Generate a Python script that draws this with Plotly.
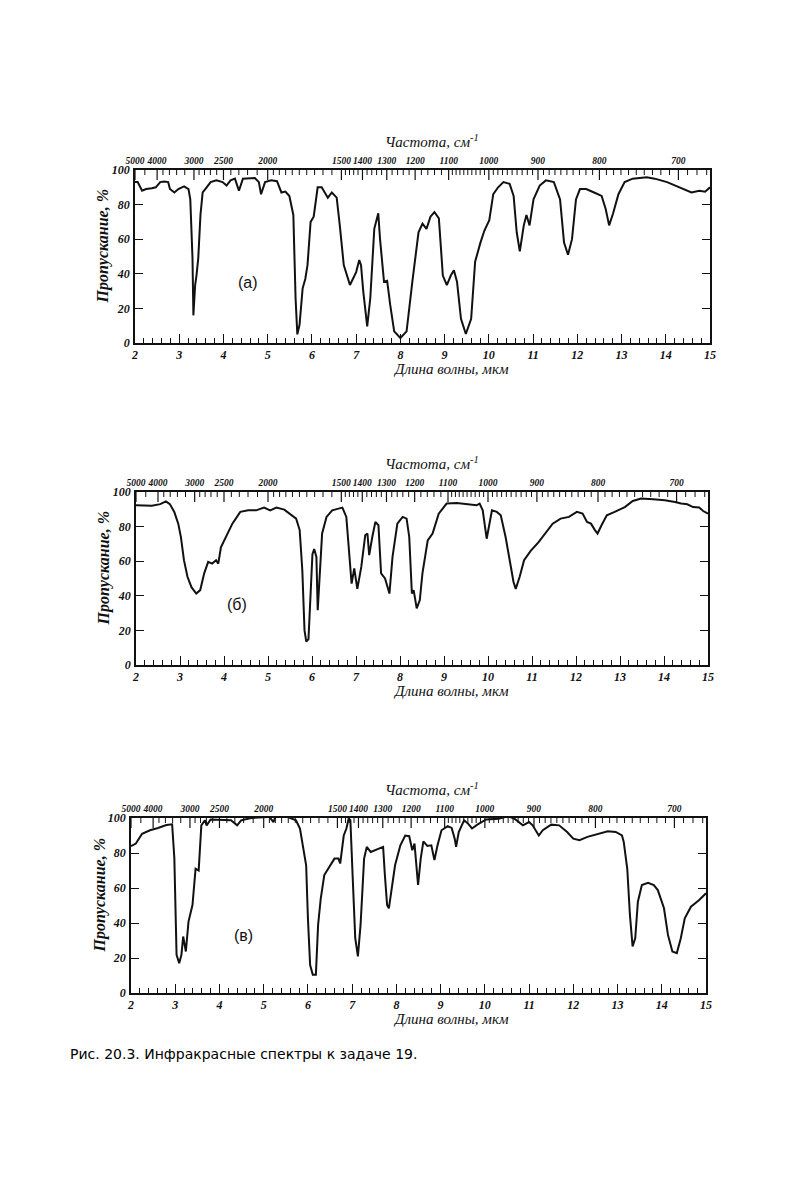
import plotly.graph_objects as go

# ---------------- data ----------------
wl_a = [2.00, 2.06, 2.16, 2.25, 2.38, 2.47, 2.57, 2.66, 2.75, 2.79, 2.89, 2.98, 3.11, 3.21, 3.25, 3.30,
        3.32, 3.36, 3.39, 3.43, 3.48, 3.53, 3.62, 3.71, 3.84, 3.98, 4.07, 4.16, 4.26, 4.35, 4.44, 4.58,
        4.71, 4.80, 4.85, 4.94, 5.08, 5.21, 5.31, 5.40, 5.49, 5.58, 5.63, 5.67, 5.72, 5.79, 5.85, 5.90,
        5.97, 6.04, 6.13, 6.22, 6.36, 6.45, 6.56, 6.63, 6.72, 6.86, 7.00, 7.07, 7.11, 7.16, 7.25, 7.32,
        7.41, 7.50, 7.54, 7.63, 7.70, 7.77, 7.86, 8.00, 8.14, 8.27, 8.41, 8.50, 8.59, 8.68, 8.77, 8.87,
        8.96, 9.05, 9.14, 9.21, 9.28, 9.37, 9.48, 9.60, 9.69, 9.81, 9.90, 10.01, 10.10, 10.21, 10.33,
        10.47, 10.56, 10.63, 10.70, 10.79, 10.85, 10.92, 11.01, 11.15, 11.29, 11.47, 11.61, 11.70, 11.79,
        11.88, 11.97, 12.06, 12.20, 12.38, 12.55, 12.64, 12.72, 12.81, 12.93, 13.07, 13.25, 13.57, 13.75,
        14.03, 14.31, 14.58, 14.76, 14.89, 15.00]
tr_a = [93, 93, 88, 89, 89.5, 90, 93, 93.3, 93, 89, 87, 89, 90.5, 89, 83, 49,
        16, 33.5, 39, 49, 74, 87, 90, 93, 94, 93, 91, 94, 95, 88, 95, 95.4,
        95.4, 93, 86, 93, 94, 93.5, 87, 87.5, 85, 74, 26, 5, 10.5, 31.6, 37, 45,
        70, 73, 90, 90, 84, 87, 84, 68, 45, 33.5, 41, 48, 45, 30, 9.6, 26,
        66, 75, 60, 35.4, 36, 22, 6.7, 2.9, 6.7, 35.4, 64, 69, 66, 73, 75.7, 72,
        39, 33.5, 39, 42, 35.4, 14, 5.2, 14, 47, 58, 65, 71, 86, 90, 93,
        92, 85, 64, 53, 68, 74, 68, 83, 91, 94, 93, 83, 58, 51,
        60, 83, 89, 89, 87, 85, 77.6, 68, 75, 86, 93, 95, 95.8, 95,
        93, 90, 87, 88, 87.5, 90]

wl_b = [2.00, 2.36, 2.55, 2.68, 2.77, 2.87, 2.96, 3.02, 3.09, 3.17, 3.26, 3.37, 3.46, 3.55, 3.64, 3.73,
        3.82, 3.87, 3.93, 4.05, 4.19, 4.37, 4.55, 4.73, 4.91, 5.05, 5.19, 5.37, 5.55, 5.64, 5.72, 5.78,
        5.83, 5.87, 5.92, 5.96, 6.01, 6.05, 6.10, 6.13, 6.17, 6.23, 6.33, 6.46, 6.60, 6.69, 6.78, 6.85,
        6.90, 6.96, 7.03, 7.12, 7.21, 7.26, 7.30, 7.37, 7.44, 7.51, 7.57, 7.66, 7.76, 7.83, 7.94, 8.06,
        8.15, 8.21, 8.27, 8.31, 8.38, 8.45, 8.51, 8.63, 8.74, 8.88, 9.06, 9.29, 9.56, 9.74, 9.81, 9.88,
        9.97, 10.03, 10.09, 10.20, 10.29, 10.40, 10.49, 10.58, 10.63, 10.72, 10.82, 10.97, 11.15, 11.29,
        11.47, 11.65, 11.84, 12.02, 12.15, 12.25, 12.34, 12.43, 12.49, 12.58, 12.70, 12.88, 13.11, 13.29,
        13.48, 13.75, 14.02, 14.25, 14.39, 14.53, 14.66, 14.80, 14.89, 15.00]
tr_b = [92.3, 92, 93, 94.6, 93, 88.5, 81.7, 74, 60.6, 51, 45, 41.3, 43.3, 53, 59.6, 58.6,
        60.6, 58.6, 68, 74, 81.7, 88.5, 89.4, 89.4, 91, 89.4, 91, 89.8, 86.5, 84.6, 78, 54.8,
        20, 13.5, 15, 37.5, 64, 67, 62.5, 31.7, 51, 76, 85.6, 89.4, 90.4, 91, 85.6, 60.6,
        47, 55.8, 44, 56.7, 75, 76, 63.5, 74, 82.7, 80.8, 53, 50, 41.3, 62.5, 81.7, 85.6,
        84.6, 74, 41.3, 43.3, 32.7, 37.5, 53, 72, 76, 87.5, 93.3, 93.7, 92.9, 92.3, 93.3, 89.4,
        73, 81.7, 89.4, 88.5, 86.5, 74, 60.6, 48, 44, 51, 60.6, 66, 71, 76,
        81.7, 84.6, 85.6, 88.5, 87.5, 82.7, 81.7, 78, 76, 80.8, 86.5, 88.5, 91.3, 94.8,
        96.2, 95.8, 95.2, 94.2, 93.3, 92.9, 91.3, 91, 89, 87.5]

wl_c = [2.00, 2.11, 2.25, 2.43, 2.61, 2.80, 2.93, 2.98, 3.03, 3.09, 3.14, 3.18, 3.24, 3.30, 3.39, 3.46,
        3.53, 3.59, 3.67, 3.71, 3.80, 4.08, 4.26, 4.40, 4.49, 4.72, 4.99, 5.13, 5.22, 5.27, 5.54, 5.73,
        5.82, 5.91, 5.96, 6.00, 6.05, 6.11, 6.18, 6.23, 6.29, 6.37, 6.51, 6.60, 6.69, 6.73, 6.81, 6.87,
        6.92, 6.96, 7.01, 7.07, 7.13, 7.19, 7.27, 7.33, 7.42, 7.56, 7.70, 7.74, 7.79, 7.83, 7.90, 7.97,
        8.09, 8.20, 8.29, 8.36, 8.41, 8.46, 8.49, 8.55, 8.61, 8.70, 8.79, 8.86, 8.93, 9.02, 9.16, 9.25,
        9.32, 9.35, 9.41, 9.53, 9.62, 9.71, 9.83, 10.03, 10.31, 10.53, 10.67, 10.86, 11.00, 11.08, 11.22,
        11.31, 11.50, 11.68, 11.86, 12.00, 12.14, 12.32, 12.60, 12.78, 12.96, 13.10, 13.14, 13.22, 13.28,
        13.34, 13.40, 13.46, 13.55, 13.69, 13.82, 13.91, 14.00, 14.05, 14.14, 14.24, 14.34, 14.43, 14.52,
        14.66, 14.84, 15.00]
tr_c = [84, 85.4, 91, 93, 94.3, 96, 96.4, 77, 21.8, 17, 21.8, 32.3, 23.7, 40.8, 50.3, 71,
        70, 95.8, 98.7, 95.8, 99.2, 98.7, 98.7, 95.8, 98.7, 100, 100.6, 100.6, 97.7, 101, 100.6, 98.7,
        94, 78.7, 73, 42.7, 16, 10.4, 10.4, 38.9, 54, 67.4, 73, 76.8, 76.8, 74, 90, 94,
        99.6, 98.7, 67.4, 31.3, 20.9, 38.9, 76.8, 83.5, 80.6, 82.2, 83.5, 67.4, 50.3, 48.4, 61.7, 73,
        84.4, 90, 89.6, 81.6, 85.4, 73, 61.7, 76.8, 86.7, 84, 84.4, 75.9, 84.4, 93, 95.4, 94.3,
        88, 83.5, 92, 98.7, 96.8, 94, 96.2, 99.2, 99.6, 101, 99.6, 95.8, 97.7, 95.8, 90,
        93, 96.2, 95.8, 92, 88.2, 87.3, 89.2, 91, 92.4, 92, 90, 86.3, 71, 44.6,
        26.6, 31.3, 52.2, 61.7, 63, 61.7, 58.8, 52.2, 48.4, 33.2, 23.7, 22.8, 31.3, 42.7,
        49.3, 53, 57]

wl_ticks = list(range(2, 16))
wl_tick_labels = [str(v) for v in wl_ticks]
wl_minor = [round(2 + 0.2 * i, 2) for i in range(66) if i % 5 != 0]
tr_ticks = [0, 20, 40, 60, 80, 100]
tr_tick_labels = [str(v) for v in tr_ticks]
freq_major = [5000, 4000, 3000, 2500, 2000, 1500, 1400, 1300, 1200, 1100, 1000, 900, 800, 700]
freq_labels = [str(f) for f in freq_major]
freq_minor = ([4500] + list(range(3800, 3000, -200)) + list(range(2900, 2000, -100))
              + list(range(1950, 1500, -50)) + list(range(1480, 1100, -20))
              + list(range(1090, 660, -10)))
freq_minor = [f for f in freq_minor if f not in freq_major]

panel_names = ["(а)", "(б)", "(в)"]
series = [(wl_a, tr_a), (wl_b, tr_b), (wl_c, tr_c)]

# ---------------- layout geometry (page pixels of the 790x1200 reference) ----------------
PAGE_OFF = 8          # browser body margin
W, H = 790 - PAGE_OFF, 1200 - PAGE_OFF
geom = [
    dict(x0=135, x1=710, top=170, bottom=343, lab=(4.55, 35)),
    dict(x0=136, x1=708, top=492, bottom=665, lab=(4.30, 35)),
    dict(x0=131, x1=706, top=818, bottom=993, lab=(4.55, 33)),
]
TOP_MAJOR_LEN, TOP_MINOR_LEN = 10, 5

def py(p):
    return 1 - (p - PAGE_OFF) / H

def px(p):
    return (p - PAGE_OFF) / W

ink = "#111111"
tick_font = dict(family="Liberation Serif", size=12, color=ink, weight="bold", style="italic")
top_tick_font = dict(family="Liberation Serif", size=9.5, color=ink, weight="bold", style="italic")
title_font = dict(family="Liberation Serif", size=15, color=ink, style="italic")
ytitle_font = dict(family="Liberation Serif", size=16, color=ink, weight="bold", style="italic")

fig = go.Figure()
layout = dict(width=W, height=H, margin=dict(l=0, r=0, t=0, b=0, autoexpand=False),
              paper_bgcolor="white", plot_bgcolor="white", showlegend=False)
annotations = []
shapes = []

for i, ((wl, tr), g, name) in enumerate(zip(series, geom, panel_names)):
    xb = "x" if i == 0 else f"x{2 * i + 1}"
    xt = f"x{2 * i + 2}"
    yy = "y" if i == 0 else f"y{i + 1}"
    xb_key = "xaxis" if i == 0 else f"xaxis{2 * i + 1}"
    xt_key = f"xaxis{2 * i + 2}"
    y_key = "yaxis" if i == 0 else f"yaxis{i + 1}"

    fig.add_trace(go.Scatter(x=wl, y=tr, mode="lines", xaxis=xb, yaxis=yy,
                             line=dict(color=ink, width=2), hoverinfo="skip"))
    # invisible copy so that the top (frequency) axis gets drawn
    fig.add_trace(go.Scatter(x=wl, y=tr, mode="lines", xaxis=xt, yaxis=yy,
                             line=dict(color="rgba(0,0,0,0)", width=0), hoverinfo="skip"))

    dom_x = [px(g["x0"]), px(g["x1"])]
    dom_y = [py(g["bottom"]), py(g["top"])]

    layout[xb_key] = dict(domain=dom_x, anchor=yy, range=[2, 15], automargin=False,
                          tickmode="array", tickvals=wl_ticks, ticktext=wl_tick_labels,
                          tickangle=0,
                          ticks="inside", ticklen=9, tickwidth=1.2, tickcolor=ink,
                          minor=dict(tickmode="array", tickvals=wl_minor, ticks="inside",
                                     ticklen=5, tickwidth=1, tickcolor=ink),
                          showline=True, linecolor=ink, linewidth=1.6, mirror=True,
                          showgrid=False, zeroline=False, tickfont=tick_font,
                          ticklabelstandoff=0)
    layout[xt_key] = dict(overlaying=xb, anchor=yy, side="top", range=[2, 15], automargin=False,
                          tickmode="array", tickvals=[10000 / f for f in freq_major],
                          ticktext=freq_labels, tickfont=top_tick_font, tickangle=0,
                          ticks="", showline=False, showgrid=False, zeroline=False,
                          ticklabelstandoff=3)
    layout[y_key] = dict(domain=dom_y, anchor=xb, range=[0, 100], automargin=False,
                         tickmode="array", tickvals=tr_ticks, ticktext=tr_tick_labels,
                         ticks="inside", ticklen=8, tickwidth=1.2, tickcolor=ink,
                         showline=True, linecolor=ink, linewidth=1.6, mirror="ticks",
                         showgrid=False, zeroline=False, tickfont=tick_font,
                         ticklabelstandoff=1)

    # top (frequency) scale ticks, hanging down from the frame top
    for f in freq_major:
        shapes.append(dict(type="line", xref=xb, yref="paper", x0=10000 / f, x1=10000 / f,
                           y0=py(g["top"]), y1=py(g["top"] + TOP_MAJOR_LEN),
                           line=dict(color=ink, width=1.2)))
    for f in freq_minor:
        shapes.append(dict(type="line", xref=xb, yref="paper", x0=10000 / f, x1=10000 / f,
                           y0=py(g["top"]), y1=py(g["top"] + TOP_MINOR_LEN),
                           line=dict(color=ink, width=1)))

    # axis titles
    annotations.append(dict(x=px(432), y=py(g["top"] - 29), xref="paper", yref="paper",
                            text="Частота, см<sup>-1</sup>", showarrow=False, font=title_font,
                            xanchor="center", yanchor="middle"))
    annotations.append(dict(x=px(451), y=py(g["bottom"] + 26), xref="paper", yref="paper",
                            text="Длина волны, мкм", showarrow=False, font=title_font,
                            xanchor="center", yanchor="middle"))
    annotations.append(dict(x=px(g["x0"] - 32), y=py((g["top"] + g["bottom"]) / 2 - 10),
                            xref="paper", yref="paper", text="Пропускание, %", textangle=-90,
                            showarrow=False, font=ytitle_font, xanchor="center", yanchor="middle"))
    # panel label
    annotations.append(dict(x=g["lab"][0], y=g["lab"][1], xref=xb, yref=yy, text=name,
                            showarrow=False, font=dict(family="Liberation Sans", size=16, color=ink),
                            xanchor="center", yanchor="middle"))

annotations.append(dict(x=px(68), y=py(1054), xref="paper", yref="paper",
                        text="Рис. 20.3. Инфракрасные спектры к задаче 19.",
                        showarrow=False, xanchor="left", yanchor="middle",
                        font=dict(family="DejaVu Sans", size=14, color="#000000")))

layout["annotations"] = annotations
layout["shapes"] = shapes
fig.update_layout(**layout)
fig.write_html("out.html")
